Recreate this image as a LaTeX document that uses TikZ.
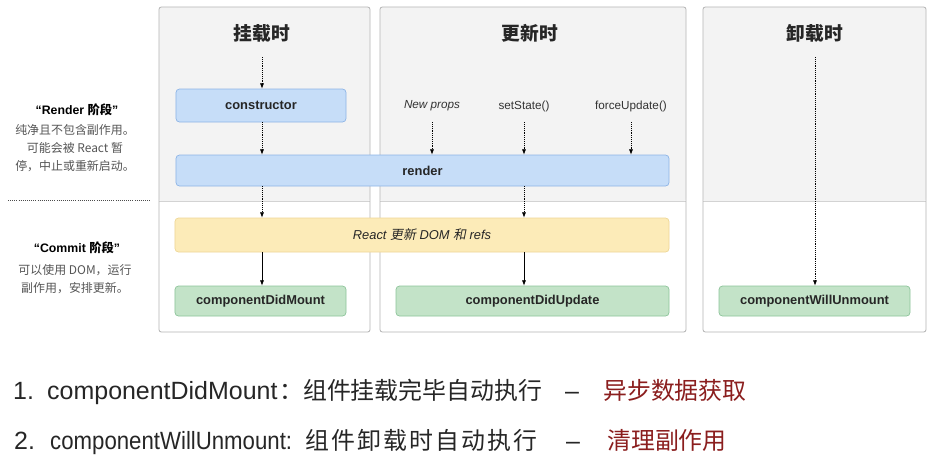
\documentclass[tikz,border=0pt]{standalone}
\usepackage{fontspec}
\setmainfont{Liberation Sans}
\newfontfamily\cjk{Noto Sans CJK SC}[AutoFakeSlant=0.2]
\usetikzlibrary{arrows.meta}

\definecolor{panelline}{HTML}{B5B5B5}
\definecolor{panelfill}{HTML}{F3F3F3}
\definecolor{bluefill}{HTML}{C6DDF8}
\definecolor{blueline}{HTML}{8DB4E6}
\definecolor{yellowfill}{HTML}{FCEBB8}
\definecolor{yellowline}{HTML}{EED796}
\definecolor{greenfill}{HTML}{C3E3C8}
\definecolor{greenline}{HTML}{8DC49A}
\definecolor{descgray}{HTML}{555555}
\definecolor{resultred}{HTML}{8B1E1E}

\tikzset{
	box/.style={rounded corners=3pt, line width=0.6pt, inner sep=0pt, text=black!85, font=\bfseries\fontsize{11}{13}\selectfont},
	bluebox/.style={box, draw=blueline, fill=bluefill},
	yellowbox/.style={box, draw=yellowline, fill=yellowfill, font=\itshape\fontsize{11}{13}\selectfont},
	greenbox/.style={box, draw=greenline, fill=greenfill, minimum height=0.9cm},
	title/.style={font=\cjk\bfseries\fontsize{16}{18}\selectfont, text=black!85},
	trigger/.style={inner sep=0pt, text=black!80, font=\fontsize{10}{12}\selectfont},
	phasehd/.style={font=\bfseries\fontsize{10.5}{12}\selectfont},
	phasedesc/.style={align=center, text=descgray, font=\cjk\fontsize{10.2}{15.3}\selectfont},
	listtxt/.style={inner sep=0pt, anchor=base west, text=black!85, font=\fontsize{21.3}{24}\selectfont},
	listcjk/.style={listtxt, font=\cjk\fontsize{20.4}{24}\selectfont},
	dotarrow/.style={densely dotted, line width=0.6pt, -{Latex[length=4.5pt,width=3.5pt]}},
	solidarrow/.style={line width=0.6pt, -{Latex[length=4.5pt,width=3.5pt]}}
}

\begin{document}
\begin{tikzpicture}[x=0.03cm, y=-0.03cm]
	\fill[white] (0,0) rectangle (931,462);
	\useasboundingbox (0,0) rectangle (931,462);
	
	% three panels, grey upper part = render phase
	\foreach \l/\r in {159/370, 380/686, 703/926} {
		\fill[panelfill, rounded corners=2pt] (\l,7) rectangle (\r,201);
		\draw[panelline!60, line width=0.5pt] (\l,201) -- (\r,201);
		\draw[panelline, rounded corners=2pt, line width=0.7pt] (\l,7) rectangle (\r,332);
	}
	
	\node[title] (mounthd) at (262,33) {挂载时};
	\node[title] (updatehd) at (530,33) {更新时};
	\node[title] (unmounthd) at (815,33) {卸载时};
	
	% phase notes on the left
	\node[phasehd] (renderhd) at (77,110) {“Render {\cjk 阶段}”};
	\node[phasedesc] (renderdesc) at (75,148) {纯净且不包含副作用。\\可能会被 React 暂\\停，中止或重新启动。};
	\draw[densely dotted, line width=0.8pt, black!70] (8,200) -- (150,200);
	\node[phasehd] (commithd) at (77,248) {“Commit {\cjk 阶段}”};
	\node[phasedesc] (commitdesc) at (75,279.5) {可以使用 DOM，运行\\副作用，安排更新。};
	
	% boxes
	\node[bluebox, minimum width=5.1cm, minimum height=0.99cm] (ctor) at (261,105.5) {constructor};
	\node[bluebox, minimum width=14.79cm, minimum height=0.93cm] (render) at (422.5,170.5) {render};
	\node[yellowbox, minimum width=14.82cm, minimum height=1.02cm] (commit) at (422,235) {React {\cjk 更新} DOM {\cjk 和} refs};
	\node[greenbox, minimum width=5.13cm] (didmount) at (260.5,301) {componentDidMount};
	\node[greenbox, minimum width=8.19cm] (didupdate) at (532.5,301) {componentDidUpdate};
	\node[greenbox, minimum width=5.73cm] (willunmount) at (814.5,301) {componentWillUnmount};
	
	\node[trigger, font=\itshape\fontsize{10}{12}\selectfont] (newprops) at (432,106) {New props};
	\node[trigger] (setstate) at (524,106) {setState()};
	\node[trigger] (forceupd) at (631,106) {forceUpdate()};
	
	% mounting
	\coordinate (mountin) at (262,57);
	\draw[dotarrow] (mountin) -- (mountin |- ctor.north);
	\draw[dotarrow] (mountin |- ctor.south) -- (mountin |- render.north);
	\draw[dotarrow] (mountin |- render.south) -- (mountin |- commit.north);
	\draw[solidarrow] (mountin |- commit.south) -- (mountin |- didmount.north);
	
	% updating
	\foreach \t in {newprops, setstate, forceupd}
		\draw[dotarrow, shorten <=9pt] (\t.south) -- (\t.south |- render.north);
	\draw[dotarrow] (setstate.south |- render.south) -- (setstate.south |- commit.north);
	\draw[solidarrow] (setstate.south |- commit.south) -- (setstate.south |- didupdate.north);
	
	% unmounting
	\coordinate (unmountin) at (815,57);
	\draw[dotarrow] (unmountin) -- (unmountin |- willunmount.north);
	
	% notes below
	\node[listtxt] (num1) at (13,399) {1.};
	\node[listtxt] (meth1) at (47,399) {componentDidMount};
	\node[listcjk] (desc1) at (279,399) {：组件挂载完毕自动执行};
	\node[listtxt, anchor=base] (dash1) at (572,399) {–};
	\node[listcjk, text=resultred] (res1) at (603,399) {异步数据获取};
	\node[listtxt] (num2) at (14,449) {2.};
	\node[listtxt] (meth2) at (50,449) {\scalebox{0.89}[1]{componentWillUnmount:}};
	\node[listcjk, font=\cjk\fontsize{20.4}{24}\selectfont\addfontfeature{LetterSpace=9}] (desc2) at (305,449) {组件卸载时自动执行};
	\node[listtxt, anchor=base] (dash2) at (573,449) {–};
	\node[listcjk, text=resultred] (res2) at (607,449) {清理副作用};
\end{tikzpicture}
\end{document}
